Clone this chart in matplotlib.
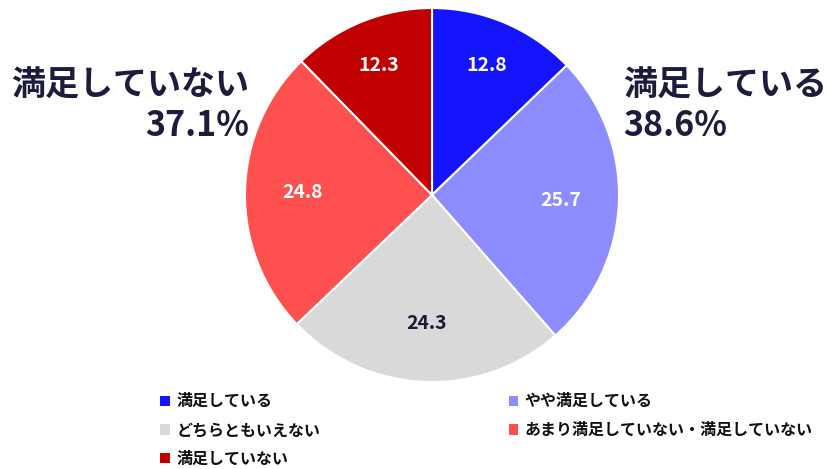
import matplotlib
matplotlib.use("Agg")
import matplotlib.pyplot as plt
from matplotlib.patches import Patch
import numpy as np

plt.rcParams['font.family'] = ['Noto Sans CJK JP', 'DejaVu Sans']

categories = ["満足している", "やや満足している", "どちらともいえない",
              "あまり満足していない・満足していない", "満足していない"]
values = [12.8, 25.7, 24.3, 24.8, 12.3]
colors = ["#1414ff", "#8c8cff", "#d9d9d9", "#ff5050", "#c00000"]
label_colors = ["white", "white", "#1a1a33", "white", "white"]
summary_left = ["満足していない", "37.1%"]
summary_right = ["満足している", "38.6%"]

W, H = 840, 469
fig = plt.figure(figsize=(W / 100, H / 100), dpi=100)
cx, cy, r = 432, 195, 187
ax = fig.add_axes([(cx - r) / W, (H - cy - r) / H, 2 * r / W, 2 * r / H])
wedges, _ = ax.pie(values, colors=colors, startangle=90, counterclock=False,
                   wedgeprops=dict(edgecolor="white", linewidth=1.5))
ax.set_xlim(-1, 1)
ax.set_ylim(-1, 1)
ax.set_aspect('equal')
ax.axis('off')

for w, v, tc in zip(wedges, values, label_colors):
    ang = np.deg2rad((w.theta1 + w.theta2) / 2)
    rr = 0.75 if v < 15 else 0.69
    ax.text(rr * np.cos(ang), rr * np.sin(ang), f"{v:.1f}", ha="center", va="center",
            color=tc, fontsize=14, fontweight="bold")

navy = "#1c1c3c"
fs = 24.5
fig.text(249 / W, 1 - 85 / H, summary_left[0], ha="right", va="center",
         fontsize=fs, fontweight="bold", color=navy)
fig.text(249 / W, 1 - 125 / H, summary_left[1], ha="right", va="center",
         fontsize=fs, fontweight="bold", color=navy)
fig.text(623 / W, 1 - 85 / H, summary_right[0], ha="left", va="center",
         fontsize=fs, fontweight="bold", color=navy)
fig.text(623 / W, 1 - 125 / H, summary_right[1], ha="left", va="center",
         fontsize=fs, fontweight="bold", color=navy)

handles = [Patch(facecolor=c, edgecolor="none") for c in colors]
order = [0, 2, 4, 1, 3]
leg = fig.legend([handles[i] for i in order], [categories[i] for i in order],
                 ncol=2, loc="upper left", bbox_to_anchor=(146 / W, 1 - 379 / H),
                 frameon=False, handlelength=0.6, handleheight=0.6, handletextpad=0.4,
                 columnspacing=11.8, labelspacing=0.8,
                 prop=dict(size=11.5, weight="bold"))
for t in leg.get_texts():
    t.set_color("#111111")

fig.savefig("out.png", dpi=100)
